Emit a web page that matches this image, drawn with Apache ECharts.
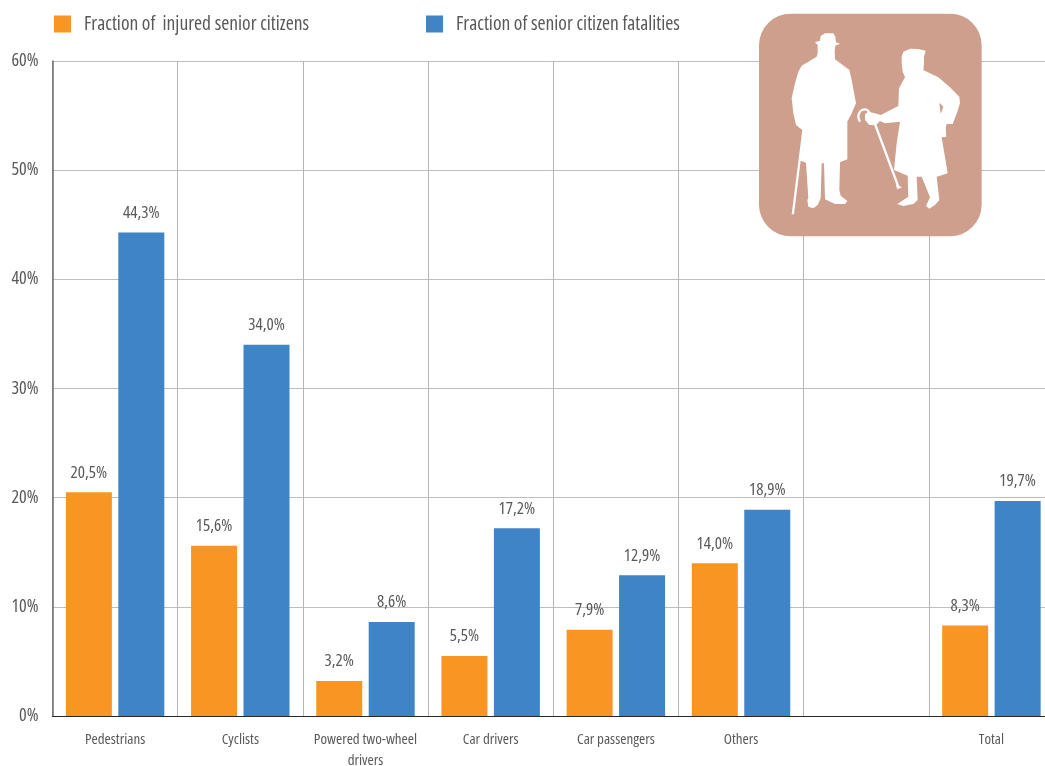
<!DOCTYPE html>
<html><head><meta charset="utf-8">
<style>html,body{margin:0;padding:0;background:#fff;overflow:hidden}#c{width:1045px;height:766px}</style>
<script src="https://cdn.jsdelivr.net/npm/echarts@6/dist/echarts.min.js"></script>
</head><body><div id="c"></div>
<script>
const categories = ['Pedestrians','Cyclists','Powered two-wheel\ndrivers','Car drivers','Car passengers','Others','','Total'];
const injured = [20.5,15.6,3.2,5.5,7.9,14.0,null,8.3];
const fatalities = [44.3,34.0,8.6,17.2,12.9,18.9,null,19.7];
const nameInjured = 'Fraction of  injured senior citizens';
const nameFatal = 'Fraction of senior citizen fatalities';
const TXT = '#58595b';
const FONT = '"Open Sans"';
const STRETCH = 'extra-condensed';
const manPts = [[195,127],[210,122],[212,108],[225,100],[250,100],[256,110],[258,127],[270,131],[256,137],[254,150],[255,178],[298,210],[305,240],[318,310],[305,340],[292,365],[292,478],[270,487],[268,570],[272,587],[292,603],[285,612],[255,612],[225,598],[222,490],[215,490],[212,595],[203,615],[190,625],[175,620],[172,600],[175,595],[168,488],[152,482],[132,643],[125,643],[157,390],[138,375],[130,340],[125,295],[135,250],[145,215],[155,197],[200,170],[203,160],[203,135]];
const womanPts = [[455,170],[460,155],[480,146],[505,147],[527,152],[522,170],[522,190],[520,210],[565,232],[600,262],[628,290],[630,310],[622,335],[608,372],[590,372],[587,385],[589,410],[575,412],[593,520],[560,530],[568,600],[555,615],[538,626],[528,618],[540,592],[515,530],[500,530],[503,600],[490,612],[460,618],[442,612],[475,590],[473,527],[432,510],[440,430],[450,365],[405,370],[390,363],[378,375],[358,375],[345,360],[345,342],[355,335],[375,340],[392,345],[445,318],[447,265],[465,232],[458,215],[455,190]];
const notchPts = [[568,308],[580,320],[572,342]];
const canePts = [[375,372],[445,560]];
const caneTipPts = [[437,553],[456,562],[442,568]];
const handlePts = [[330,365],[325,348],[332,333],[345,328],[355,333],[360,345]];
const fmt = p => p.value == null ? '' : p.value.toFixed(1).replace('.', ',') + '%';
const label = {show:true,position:'top',distance:11,color:TXT,fontFamily:FONT,fontWeight:STRETCH,fontSize:17,formatter:fmt};
const chart = echarts.init(document.getElementById('c'),null,{renderer:'canvas'});
const legendBase = {top:14,itemWidth:17,itemHeight:17,icon:'rect',itemGap:0,padding:0,
  textStyle:{color:TXT,fontFamily:FONT,fontWeight:STRETCH,fontSize:19.5,padding:[2,0,0,8]}};
chart.setOption({
  animation:false,
  backgroundColor:'#fff',
  legend:[
    Object.assign({},legendBase,{left:54,data:[nameInjured]}),
    Object.assign({},legendBase,{left:426,data:[nameFatal]})
  ],
  grid:{left:52.5,right:-9,top:61,bottom:50,outerBoundsMode:'none'},
  xAxis:{type:'category',data:categories,
    axisTick:{show:false},
    axisLine:{lineStyle:{color:'#2a2a2a',width:1.2}},
    axisLabel:{color:TXT,fontFamily:FONT,fontWeight:STRETCH,fontSize:15,margin:13,interval:0,lineHeight:21},
    splitLine:{show:true,interval:0,lineStyle:{color:'#b5b5b5',width:1}}},
  yAxis:{type:'value',min:0,max:60,interval:10,
    axisLine:{show:true,lineStyle:{color:'#6e6e6e',width:1.5}},
    axisTick:{show:false},
    axisLabel:{color:TXT,fontFamily:FONT,fontWeight:STRETCH,fontSize:18,margin:14,padding:[3,0,0,0],formatter:'{value}%'},
    splitLine:{lineStyle:{color:'#bdbdbd',width:1}}},
  series:[
    {name:nameInjured,type:'bar',data:injured,barWidth:46,barGap:'14%',itemStyle:{color:'#F99522'},label},
    {name:nameFatal,type:'bar',data:fatalities,barWidth:46,itemStyle:{color:'#3E84C6'},label}
  ],
  graphic:[{type:'group',x:750,y:0,scaleX:1/3,scaleY:1/3,z:100,children:[
    {type:'rect',shape:{x:27,y:41,width:668,height:668,r:95},style:{fill:'#CE9F8D'},z:100},
    {type:'polygon',shape:{points:manPts},style:{fill:'#fff'},z:101},
    {type:'polygon',shape:{points:womanPts},style:{fill:'#fff'},z:101},
    {type:'polygon',shape:{points:notchPts},style:{fill:'#CE9F8D'},z:102},
    {type:'polyline',shape:{points:canePts},style:{fill:null,stroke:'#fff',lineWidth:7},z:101},
    {type:'polygon',shape:{points:caneTipPts},style:{fill:'#fff'},z:101},
    {type:'polyline',shape:{points:handlePts,smooth:0.4},style:{fill:null,stroke:'#fff',lineWidth:7},z:101}
  ]}]
});
</script></body></html>
